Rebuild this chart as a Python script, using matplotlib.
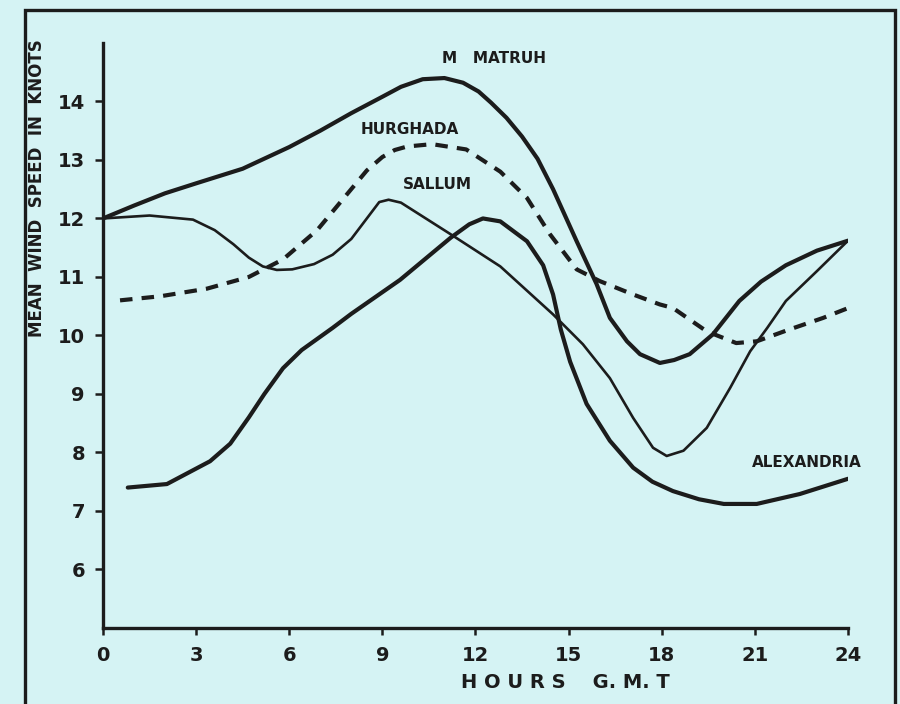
import matplotlib
matplotlib.use("Agg")
import matplotlib.pyplot as plt
from matplotlib.patches import Rectangle

# mean wind speed (knots) against hour G.M.T.
matruh_h = [0, 1, 2, 3, 4.5, 6, 7, 8, 9, 9.6, 10.3, 11, 11.6, 12.1, 12.5, 13, 13.5,
            14.0, 14.5, 15.26, 15.9, 16.33, 16.88, 17.3, 17.94, 18.4, 18.9, 19.65,
            20.5, 21.2, 22, 23, 24]
matruh_v = [12.0, 12.22, 12.43, 12.6, 12.85, 13.22, 13.5, 13.8, 14.08, 14.25, 14.38,
            14.4, 14.32, 14.17, 13.98, 13.72, 13.4, 13.02, 12.5, 11.61, 10.88, 10.3,
            9.9, 9.68, 9.53, 9.58, 9.68, 10.02, 10.59, 10.92, 11.2, 11.45, 11.62]

hurghada_h = [0.55, 1.85, 3.35, 4.7, 5.8, 6.9, 7.95, 8.5, 9.0, 9.4, 9.8, 10.6, 11.7,
              12.8, 13.66, 14.4, 15.26, 16.0, 17.08, 17.94, 18.36, 19.45, 20.4, 21.06,
              22.1, 23.2, 24.3]
hurghada_v = [10.6, 10.67, 10.8, 11.0, 11.3, 11.8, 12.47, 12.82, 13.05, 13.17, 13.23,
              13.27, 13.18, 12.8, 12.35, 11.73, 11.13, 10.93, 10.7, 10.53, 10.47, 10.07,
              9.87, 9.9, 10.1, 10.3, 10.53]

sallum_h = [0, 1.5, 2.9, 3.6, 4.2, 4.7, 5.15, 5.6, 6.1, 6.8, 7.4, 8.0, 8.5, 8.9, 9.2,
            9.6, 11.2, 12.8, 14.5, 15.46, 16.33, 17.08, 17.72, 18.16, 18.7, 19.45, 20.2,
            20.85, 21.4, 22.0, 23.0, 24.0]
sallum_v = [12.0, 12.05, 11.98, 11.8, 11.56, 11.33, 11.18, 11.12, 11.13, 11.22, 11.38,
            11.65, 12.0, 12.28, 12.32, 12.27, 11.73, 11.18, 10.36, 9.85, 9.27, 8.59, 8.08,
            7.94, 8.03, 8.42, 9.1, 9.73, 10.13, 10.59, 11.1, 11.62]

alex_h = [0.8, 2.06, 3.45, 4.1, 4.7, 5.2, 5.8, 6.4, 7.4, 8.0, 9.57, 11.2, 11.8, 12.24,
          12.8, 13.66, 14.18, 14.5, 14.75, 15.05, 15.58, 16.33, 17.08, 17.7, 18.36, 19.2,
          20.0, 21.06, 22.45, 24.0]
alex_v = [7.4, 7.46, 7.85, 8.15, 8.6, 9.0, 9.44, 9.75, 10.13, 10.37, 10.95, 11.67, 11.9,
          12.0, 11.95, 11.61, 11.2, 10.7, 10.1, 9.55, 8.83, 8.2, 7.74, 7.5, 7.34, 7.2,
          7.12, 7.12, 7.29, 7.55]

x_ticks = [0, 3, 6, 9, 12, 15, 18, 21, 24]
y_ticks = [6, 7, 8, 9, 10, 11, 12, 13, 14]

bg = "#d5f3f4"
ink = "#1c1c1c"

fig = plt.figure(figsize=(9, 7.04), dpi=100, facecolor=bg)
ax = fig.add_axes([0.1144, 0.108, 0.8278, 0.831])
ax.set_facecolor("none")

ax.plot(matruh_h, matruh_v, color=ink, lw=3.0, solid_capstyle="round",
        solid_joinstyle="round")
ax.plot(hurghada_h, hurghada_v, color=ink, lw=3.0, ls=(0, (3, 2.2)))
ax.plot(sallum_h, sallum_v, color=ink, lw=1.9, solid_joinstyle="round")
ax.plot(alex_h, alex_v, color=ink, lw=3.0, solid_capstyle="round",
        solid_joinstyle="round")

ax.set_xlim(0, 24)
ax.set_ylim(5, 15)
ax.set_xticks(x_ticks)
ax.set_yticks(y_ticks)

for s in ["top", "right"]:
    ax.spines[s].set_visible(False)
for s in ["left", "bottom"]:
    ax.spines[s].set_linewidth(2.4)
    ax.spines[s].set_color(ink)

ax.tick_params(axis="y", direction="out", length=6, width=1.8, pad=7,
               labelsize=14, colors=ink)
ax.tick_params(axis="x", direction="out", length=5, width=1.8, pad=8,
               labelsize=14, colors=ink)
for lab in ax.get_xticklabels() + ax.get_yticklabels():
    lab.set_fontweight("bold")

# station names
lbl = dict(fontsize=11, fontweight="bold", color=ink)
ax.text(12.6, 14.73, "M   MATRUH", ha="center", va="center", **lbl)
ax.text(9.89, 13.52, "HURGHADA", ha="center", va="center", **lbl)
ax.text(10.76, 12.58, "SALLUM", ha="center", va="center", **lbl)
ax.text(20.9, 7.82, "ALEXANDRIA", ha="left", va="center", clip_on=False, **lbl)

fig.text(565 / 900, 1 - 683 / 704, "H O U R S    G. M. T", ha="center", va="center",
         fontsize=14, fontweight="bold", color=ink)
fig.text(37 / 900, 1 - 188 / 704, "MEAN  WIND  SPEED  IN  KNOTS", rotation=90,
         ha="center", va="center", fontsize=12, fontweight="bold", color=ink)

# frame around the whole figure
fig.patches.append(Rectangle((25 / 900, -0.05), 870 / 900, 1.05 - 10 / 704,
                             transform=fig.transFigure, fill=False,
                             edgecolor=ink, lw=2.4))

fig.savefig("out.png", dpi=100, facecolor=bg)
